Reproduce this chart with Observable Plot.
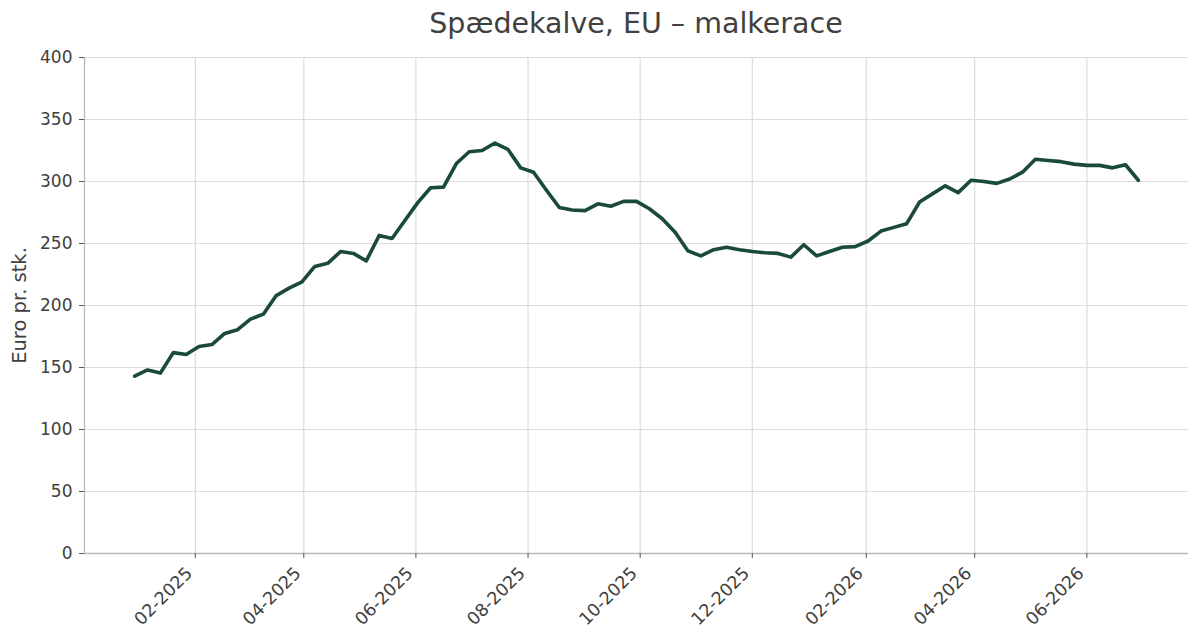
<!DOCTYPE html>
<html>
<head>
<meta charset="utf-8">
<script src="https://cdn.jsdelivr.net/npm/d3@7"></script>
<script src="https://cdn.jsdelivr.net/npm/@observablehq/plot@0.6"></script>
<style>
  html, body { margin: 0; padding: 0; background: #fff; }
  #wrap { width: 1200px; height: 642px; overflow: hidden; font-family: "DejaVu Sans", sans-serif; }
  #title { height: 48px; line-height: 48px; text-align: center; font-size: 28.5px; color: #404040; padding-left: 72px; box-sizing: border-box; }
</style>
</head>
<body>
<div id="wrap">
  <div id="title">Spædekalve, EU – malkerace</div>
  <div id="chart"></div>
</div>
<script>
const startDate = "2024-12-30";
const weeks = d3.range(79);
const values = [
  143, 148, 145.5, 162, 160.5, 167, 168.5, 177.5, 180.5, 189,
  193, 208, 214, 219, 231.5, 234, 243.5, 242, 236, 256.5,
  254, 268.5, 283, 295, 295.5, 314.5, 324, 325, 331, 326,
  311, 307.5, 293, 279, 277, 276.5, 282, 280, 284, 284,
  278, 270, 259, 244, 240, 245, 247, 245, 243.5, 242.5,
  242, 239, 249, 240, 243.5, 247, 247.5, 252, 260, 263,
  266, 283.5, 290, 296.5, 291, 301, 300, 298.5, 302, 307.5,
  318, 317, 316, 314, 313, 313, 311, 313.5, 301
];
const yTicks = [0, 50, 100, 150, 200, 250, 300, 350, 400];
const xTickLabels = ["02-2025", "04-2025", "06-2025", "08-2025", "10-2025", "12-2025", "02-2026", "04-2026", "06-2026"];

const parseMY = d3.utcParse("%m-%Y");
const xTicks = xTickLabels.map(s => parseMY(s));
const t0 = d3.utcParse("%Y-%m-%d")(startDate);
const data = weeks.map((k, i) => ({ date: d3.utcDay.offset(t0, 7 * k), value: values[i] }));

const ext = d3.extent(data, d => d.date);
const pad = (ext[1] - ext[0]) * 0.05;
const xDomain = [new Date(+ext[0] - pad), new Date(+ext[1] + pad)];

const gridColor = "#dcdcdc";
const spineColor = "#b8b8b8";
const tickColor = "#555555";
const textColor = "#404040";

const chart = Plot.plot({
  width: 1200,
  height: 594,
  marginTop: 9,
  marginBottom: 89,
  marginLeft: 84,
  marginRight: 12,
  style: { fontFamily: "DejaVu Sans, sans-serif", fontSize: "17px", color: textColor, background: "#fff" },
  x: { type: "utc", domain: xDomain },
  y: { domain: [0, 400] },
  marks: [
    Plot.gridY(yTicks, { stroke: gridColor, strokeOpacity: 1, strokeWidth: 1.2 }),
    Plot.gridX(xTicks, { stroke: gridColor, strokeOpacity: 1, strokeWidth: 1.2 }),
    Plot.ruleX([xDomain[0]], { stroke: spineColor, strokeWidth: 1.3 }),
    Plot.ruleY([0], { stroke: spineColor, strokeWidth: 1.3 }),
    Plot.axisY(yTicks, {
      tickSize: 5, tickPadding: 7, stroke: tickColor, fill: textColor, fontSize: 17,
      label: "Euro pr. stk.", labelAnchor: "center", labelArrow: "none", labelOffset: 72
    }),
    Plot.axisX(xTicks, {
      tickSize: 5, stroke: tickColor, tickFormat: () => "", label: null
    }),
    Plot.axisX(xTicks, {
      tickSize: 0, tickPadding: 13, fill: textColor, fontSize: 17.5,
      tickFormat: d3.utcFormat("%m-%Y"), tickRotate: -45, label: null, dx: -6, dy: 4
    }),
    Plot.line(data, { x: "date", y: "value", stroke: "#1a4a3a", strokeWidth: 3.6, strokeLinejoin: "round", strokeLinecap: "round" })
  ]
});
document.getElementById("chart").appendChild(chart);
chart.querySelectorAll("g[aria-label='y-axis label'] text").forEach(t => { t.style.fontSize = "19.5px"; });
</script>
</body>
</html>
